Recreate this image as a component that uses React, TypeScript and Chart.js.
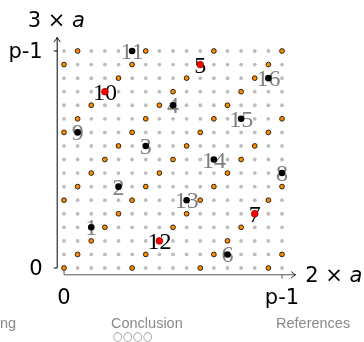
import React, { useEffect, useRef } from "react";
import { Chart, registerables } from "chart.js";

Chart.register(...registerables);

// Lattice of residues 0..p-1 (p = 17)
const gridValues = [0, 1, 2, 3, 4, 5, 6, 7, 8, 9, 10, 11, 12, 13, 14, 15, 16];

// Orange points: x positions per row (row index = y value)
const orangeRows: number[][] = [
  [0, 5, 10, 15],
  [1, 6, 11, 16],
  [2, 7, 12],
  [3, 8, 13],
  [4, 9, 14],
  [0, 5, 10, 15],
  [1, 6, 11, 16],
  [2, 7, 12],
  [3, 8, 13],
  [4, 9, 14],
  [0, 5, 10, 15],
  [1, 6, 11, 16],
  [2, 7, 12],
  [3, 8, 13],
  [4, 9, 14],
  [0, 5, 10, 15],
  [1, 6, 11, 16],
];

// Numbered points
const pointLabels = ["1", "2", "3", "4", "5", "6", "7", "8", "9", "10", "11", "12", "13", "14", "15", "16"];
const pointX = [2, 4, 6, 8, 10, 12, 14, 16, 1, 3, 5, 7, 9, 11, 13, 15];
const pointY = [3, 6, 9, 12, 15, 1, 4, 7, 10, 13, 16, 2, 5, 8, 11, 14];
const redLabels = ["5", "7", "10", "12"];

// Axis texts
const xTickLabels = ["0", "p-1"];
const xTickValues = [0, 16];
const yTickLabels = ["0", "p-1"];
const yTickValues = [0, 16];
const xTitle = ["2 × ", "a"];
const yTitle = ["3 × ", "a"];
const footerLeft = "ng";
const footerMid = "Conclusion";
const footerRight = "References";
const footerDots = "○○○○";

const SANS = '"DejaVu Sans", sans-serif';
const SANS_IT = 'italic 21px "DejaVu Sans", sans-serif';

const overlayPlugin = {
  id: "overlay",
  afterDatasetDraw(chart: any, args: any) {
    if (args.index !== 0) return;
    const ctx = chart.ctx;
    const xs = chart.scales.x;
    const ys = chart.scales.y;
    ctx.save();
    ctx.font = '24px "Liberation Serif", serif';
    ctx.textAlign = "center";
    ctx.textBaseline = "alphabetic";
    pointLabels.forEach((lab, i) => {
      const px = xs.getPixelForValue(pointX[i]);
      const py = ys.getPixelForValue(pointY[i]);
      ctx.fillStyle = redLabels.includes(lab) ? "#000000" : "#808080";
      ctx.fillText(lab, px, py + 8);
    });
    ctx.restore();
  },
  afterDraw(chart: any) {
    const ctx = chart.ctx;
    const xs = chart.scales.x;
    const ys = chart.scales.y;
    const axX = xs.getPixelForValue(-0.5);
    const axY = ys.getPixelForValue(-0.5);
    const yTop = ys.getPixelForValue(17);
    const xRight = xs.getPixelForValue(17);
    const y0 = ys.getPixelForValue(0);
    const x0 = xs.getPixelForValue(0);
    ctx.save();
    ctx.lineCap = "butt";

    // y axis
    ctx.strokeStyle = "#000";
    ctx.lineWidth = 1;
    ctx.beginPath();
    ctx.moveTo(axX, y0);
    ctx.lineTo(axX, yTop + 0.5);
    ctx.stroke();
    // y arrow
    ctx.beginPath();
    ctx.moveTo(axX - 3.2, yTop + 4.5);
    ctx.quadraticCurveTo(axX - 0.8, yTop + 1.6, axX, yTop);
    ctx.quadraticCurveTo(axX + 0.8, yTop + 1.6, axX + 3.2, yTop + 4.5);
    ctx.stroke();
    // y ticks (leftwards)
    yTickValues.forEach((v) => {
      const py = ys.getPixelForValue(v);
      ctx.beginPath();
      ctx.moveTo(axX - 3.5, py);
      ctx.lineTo(axX, py);
      ctx.stroke();
    });

    // x axis
    ctx.strokeStyle = "#555";
    ctx.beginPath();
    ctx.moveTo(x0, axY);
    ctx.lineTo(xRight - 0.5, axY);
    ctx.stroke();
    ctx.strokeStyle = "#222";
    ctx.beginPath();
    ctx.moveTo(xRight - 4.5, axY - 3.2);
    ctx.quadraticCurveTo(xRight - 1.6, axY - 0.8, xRight, axY);
    ctx.quadraticCurveTo(xRight - 1.6, axY + 0.8, xRight - 4.5, axY + 3.2);
    ctx.stroke();
    // x ticks
    ctx.strokeStyle = "#555";
    ctx.beginPath();
    ctx.moveTo(xs.getPixelForValue(xTickValues[0]), axY);
    ctx.lineTo(xs.getPixelForValue(xTickValues[0]), axY - 4);
    ctx.stroke();
    ctx.beginPath();
    ctx.moveTo(xs.getPixelForValue(xTickValues[1]), axY);
    ctx.lineTo(xs.getPixelForValue(xTickValues[1]), axY + 4);
    ctx.stroke();

    // tick labels
    ctx.fillStyle = "#000";
    ctx.font = "21px " + SANS;
    ctx.textBaseline = "alphabetic";
    ctx.textAlign = "right";
    yTickValues.forEach((v, i) => {
      const py = ys.getPixelForValue(v);
      ctx.fillText(yTickLabels[i], axX - 14.5, py + 6.5);
    });
    ctx.textAlign = "center";
    xTickValues.forEach((v, i) => {
      const px = xs.getPixelForValue(v);
      ctx.fillText(xTickLabels[i], px, axY + 29);
    });

    // titles
    const drawTitle = (parts: string[], x: number, baseline: number) => {
      ctx.textAlign = "left";
      ctx.font = "21px " + SANS;
      ctx.fillText(parts[0], x, baseline);
      const w = ctx.measureText(parts[0]).width;
      ctx.font = SANS_IT;
      ctx.fillText(parts[1], x + w, baseline);
    };
    drawTitle(yTitle, axX - 29.5, 27);
    drawTitle(xTitle, xRight + 9.5, axY + 7.5);

    // footer
    ctx.fillStyle = "#8a8a8a";
    ctx.font = '14.5px "Liberation Sans", sans-serif';
    ctx.textAlign = "left";
    ctx.fillText(footerLeft, 0, 328);
    ctx.fillText(footerMid, 111, 328);
    ctx.fillText(footerRight, 276, 328);
    ctx.font = "11.5px " + SANS;
    ctx.fillText(footerDots, 113, 340);
    ctx.restore();
  },
};

export default function App() {
  const canvasRef = useRef<HTMLCanvasElement | null>(null);

  useEffect(() => {
    if (!canvasRef.current) return;
    const grayData: { x: number; y: number }[] = [];
    gridValues.forEach((gy) => gridValues.forEach((gx) => grayData.push({ x: gx, y: gy })));
    const orangeData: { x: number; y: number }[] = [];
    orangeRows.forEach((row, yv) => row.forEach((xv) => orangeData.push({ x: xv, y: yv })));
    const blackData: { x: number; y: number }[] = [];
    const redData: { x: number; y: number }[] = [];
    pointLabels.forEach((lab, i) => {
      const p = { x: pointX[i], y: pointY[i] };
      if (redLabels.includes(lab)) redData.push(p);
      else blackData.push(p);
    });

    const chart = new Chart(canvasRef.current, {
      type: "scatter",
      data: {
        datasets: [
          {
            data: grayData,
            pointRadius: 1.9,
            pointBackgroundColor: "#bdbdbd",
            pointBorderWidth: 0,
            order: 4,
            clip: false as any,
          },
          {
            data: orangeData,
            pointRadius: 2.4,
            pointBackgroundColor: "#ff8c00",
            pointBorderColor: "#000000",
            pointBorderWidth: 0.8,
            order: 3,
            clip: false as any,
          },
          {
            data: blackData,
            pointRadius: 3.3,
            pointBackgroundColor: "#000000",
            pointBorderWidth: 0,
            order: 2,
            clip: false as any,
          },
          {
            data: redData,
            pointRadius: 3.4,
            pointBackgroundColor: "#ff0000",
            pointBorderColor: "#700000",
            pointBorderWidth: 0.6,
            order: 1,
            clip: false as any,
          },
        ],
      },
      options: {
        animation: false,
        responsive: false,
        events: [],
        layout: { padding: { left: 64, right: 82, top: 51, bottom: 74 } },
        plugins: { legend: { display: false }, tooltip: { enabled: false } },
        scales: {
          x: { type: "linear", min: 0, max: 16, display: false },
          y: { type: "linear", min: 0, max: 16, display: false },
        },
      },
      plugins: [overlayPlugin],
    });
    return () => chart.destroy();
  }, []);

  return (
    <div style={{ position: "fixed", left: 0, top: 0, width: 364, height: 342, background: "#fff" }}>
      <canvas ref={canvasRef} width={364} height={342} style={{ width: 364, height: 342, display: "block" }} />
    </div>
  );
}
